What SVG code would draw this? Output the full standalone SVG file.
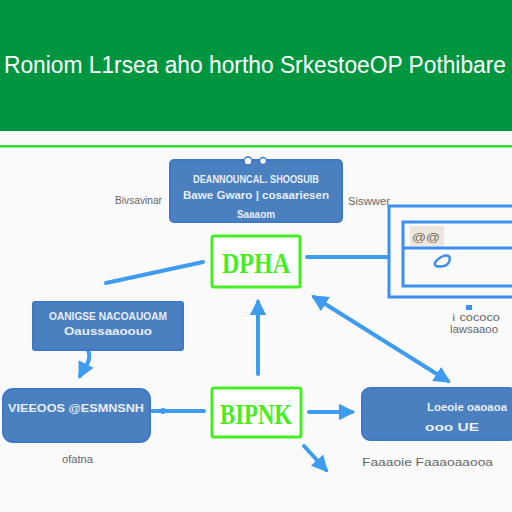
<svg xmlns="http://www.w3.org/2000/svg" width="512" height="512" viewBox="0 0 512 512">
<defs>
<style>
.box{fill:#4a7fc0;stroke:#3f78c8;stroke-width:2}
.gbox{fill:#ffffff;stroke:#44ee22;stroke-width:3}
.gtxt{fill:#44ee22;font-family:"Liberation Serif",serif;font-weight:bold;font-size:30px;text-anchor:middle}
.wt{fill:#e8eef6;font-family:"Liberation Sans",sans-serif;font-weight:bold;font-size:11px;text-anchor:middle}
.lbl{fill:#666;font-family:"Liberation Sans",sans-serif;font-size:10px}
.con{stroke:#3d9bf0;stroke-width:4;fill:none;stroke-linecap:round}
</style>
<marker id="ah" viewBox="0 0 10 10" refX="8" refY="5" markerWidth="4.2" markerHeight="4.2" orient="auto-start-reverse"><path d="M0,0 L10,5 L0,10 z" fill="#3d9bf0"/></marker>
</defs>
<rect width="512" height="512" fill="#fafafa"/>
<g id="header">
<rect x="0" y="0" width="512" height="131" fill="#009640"/>
<text x="4" y="73" fill="#ffffff" font-family="Liberation Sans, sans-serif" font-size="23" textLength="502" lengthAdjust="spacingAndGlyphs">Roniom L1rsea aho hortho SrkestoeOP Pothibare</text>
<rect x="0" y="145" width="512" height="2.5" fill="#33dd33"/>
</g>
<g id="connectors">
<line class="con" x1="106" y1="283" x2="203" y2="262"/>
<line class="con" x1="307" y1="257" x2="388" y2="257"/>
<line class="con" x1="314" y1="297" x2="448" y2="381" marker-start="url(#ah)" marker-end="url(#ah)"/>
<line class="con" x1="258" y1="374" x2="258" y2="302" marker-end="url(#ah)"/>
<path class="con" d="M88,350 Q92,360 84,368 L80,376" marker-end="url(#ah)"/>
<line class="con" x1="204" y1="411" x2="152" y2="411"/>
<circle cx="163" cy="411" r="3" fill="#3d9bf0"/>
<line class="con" x1="309" y1="412" x2="352" y2="412" marker-end="url(#ah)"/>
<line class="con" x1="304" y1="446" x2="326" y2="470" marker-end="url(#ah)"/>
</g>
<g id="top-box">
<rect class="box" x="170" y="160" width="172" height="62" rx="4"/>
<circle cx="248" cy="161" r="4" fill="#fafafa" stroke="#3f78c8" stroke-width="1.5"/>
<circle cx="263" cy="161" r="3.5" fill="#fafafa" stroke="#3f78c8" stroke-width="1.5"/>
<text class="wt" x="256" y="183" textLength="126" lengthAdjust="spacingAndGlyphs">DEANNOUNCAL. SHOOSUIB</text>
<text class="wt" x="256" y="199" textLength="146" lengthAdjust="spacingAndGlyphs">Bawe Gwaro | cosaariesen</text>
<text class="wt" x="256" y="218" textLength="38" lengthAdjust="spacingAndGlyphs">Saaaom</text>
</g>
<text class="lbl" x="115" y="204" textLength="47" lengthAdjust="spacingAndGlyphs">Bivsavinar</text>
<text class="lbl" x="348" y="205" textLength="42" lengthAdjust="spacingAndGlyphs">Siswwer</text>
<g id="right-box">
<rect x="389" y="206" width="130" height="91" fill="none" stroke="#3d8ef0" stroke-width="3"/>
<rect x="403" y="222" width="115" height="64" fill="none" stroke="#3d8ef0" stroke-width="3"/>
<line x1="403" y1="248" x2="512" y2="248" stroke="#3d8ef0" stroke-width="3"/>
<rect x="410" y="226" width="34" height="20" fill="#ece6dc"/>
<text x="412" y="241" fill="#7a6a5a" font-family="Liberation Sans, sans-serif" font-size="11" textLength="28" lengthAdjust="spacingAndGlyphs">@@</text>
<path d="M443,256 Q432,262 436,266 Q446,268 449,262 Q452,254 443,256" fill="none" stroke="#3d8ef0" stroke-width="2.5"/>
<rect x="466" y="305" width="6" height="5" fill="#3d8ef0"/>
<text class="lbl" x="452" y="321" textLength="48" lengthAdjust="spacingAndGlyphs">ℹ ᴄᴏᴄᴏᴄᴏ</text>
<text class="lbl" x="450" y="333" textLength="48" lengthAdjust="spacingAndGlyphs">lawsaaoo</text>
</g>
<g id="dpha">
<rect class="gbox" x="212" y="236" width="88" height="51" rx="2"/>
<text class="gtxt" x="256" y="273" textLength="68" lengthAdjust="spacingAndGlyphs">DPHA</text>
</g>
<g id="left-box">
<rect class="box" x="33" y="302" width="150" height="48" rx="2"/>
<text class="wt" x="108" y="320" textLength="118" lengthAdjust="spacingAndGlyphs">OANIGSE NACOAUOAM</text>
<text class="wt" x="108" y="335" textLength="88" lengthAdjust="spacingAndGlyphs">Oaussaaoouo</text>
</g>
<g id="bottom-left-box">
<rect class="box" x="3" y="389" width="147" height="53" rx="10" stroke="#3a80e8"/>
<text class="wt" x="76" y="412" textLength="136" lengthAdjust="spacingAndGlyphs">VIEEOOS @ESMNSNH</text>
</g>
<text class="lbl" x="62" y="463" textLength="31" lengthAdjust="spacingAndGlyphs">ofatna</text>
<g id="bipnk">
<rect class="gbox" x="212" y="388" width="89" height="49" rx="2"/>
<text class="gtxt" x="256" y="424" textLength="72" lengthAdjust="spacingAndGlyphs">BIPNK</text>
</g>
<g id="bottom-right-box">
<rect class="box" x="362" y="388" width="155" height="52" rx="8"/>
<text class="wt" x="467" y="411" textLength="80" lengthAdjust="spacingAndGlyphs">Loeoie oaoaoa</text>
<text class="wt" x="452" y="431" textLength="54" lengthAdjust="spacingAndGlyphs">ooo UE</text>
</g>
<text class="lbl" x="362" y="466" textLength="131" lengthAdjust="spacingAndGlyphs">Faaaoie Faaaoaaooa</text>
</svg>
